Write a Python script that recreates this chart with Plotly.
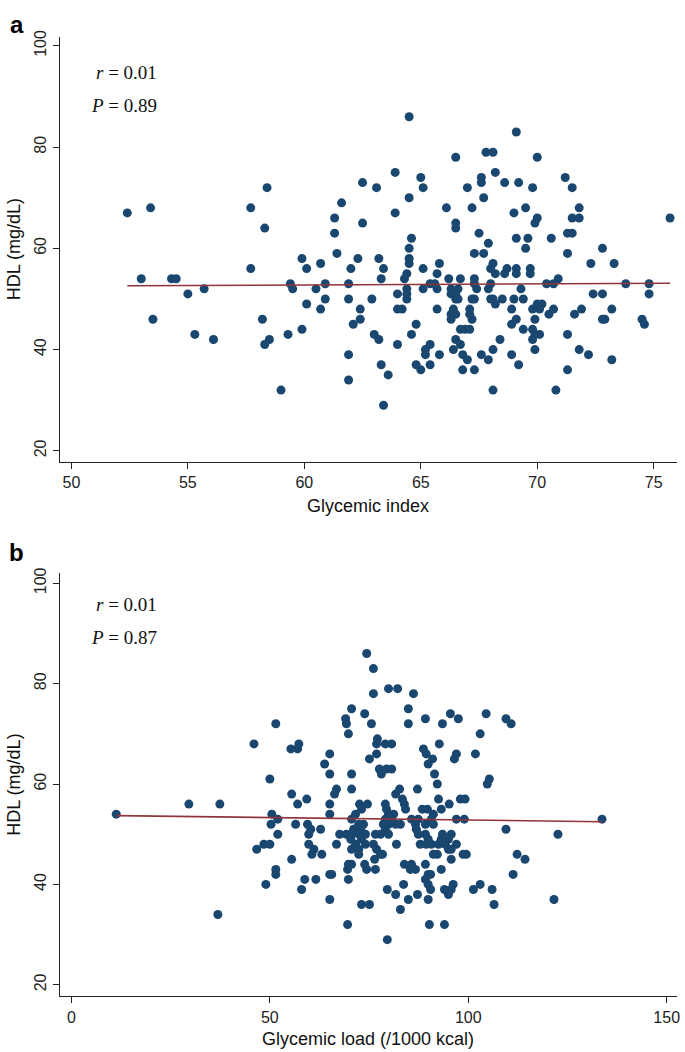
import plotly.graph_objects as go

# ---------------- Panel a: Glycemic index vs HDL ----------------
gi_a = [
    64.5,
    69.1,
    67.8, 68.1,
    66.5, 70.0,
    63.9, 68.2,
    65.0, 67.6, 71.2,
    62.5, 67.6, 68.6, 69.2,
    58.4, 63.1, 65.1, 67.0, 69.8, 71.5,
    64.5, 67.7,
    61.6,
    53.4, 57.7, 66.1, 67.2, 69.5, 71.8,
    52.4, 63.9, 69.0,
    61.3, 70.0, 71.5, 71.8, 75.7,
    62.5, 66.5, 69.9,
    58.3, 66.5,
    61.3, 67.5, 71.3, 71.5,
    64.6, 69.1, 69.6, 70.6,
    67.9,
    64.5, 69.5, 72.8,
    61.4, 67.3, 67.7, 71.3,
    59.9, 62.3, 63.2, 64.5,
    60.7, 64.5, 65.8, 68.1, 72.3, 73.3,
    57.7, 60.1, 62.0, 63.4, 65.1, 68.0, 68.7, 69.1, 69.7,
    64.4, 65.7, 68.2, 68.6, 69.1, 69.7,
    53.0, 54.3, 54.5, 63.3, 64.3, 66.2, 66.7, 67.3, 70.9,
    59.4, 60.9, 61.9, 65.4, 65.6, 67.3, 68.0, 70.4, 70.7, 73.8, 74.8,
    55.7, 59.5, 60.5, 64.4, 65.1, 65.7, 66.3, 66.6, 67.4, 67.9, 69.3,
    55.0, 64.0, 64.4, 66.3, 66.5, 72.4, 72.8, 74.8,
    60.9, 61.9, 62.9, 64.4, 66.5, 66.6, 67.2, 67.3, 68.0, 68.1, 68.5, 69.0, 69.4,
    60.1, 68.2, 70.0, 70.2,
    60.7, 62.4, 64.0, 64.2, 65.7, 66.4, 67.1, 68.9, 69.8, 70.1, 70.7, 71.9, 73.2,
    66.3, 66.5, 67.1, 70.5, 71.6,
    53.5, 58.2, 62.4, 66.3, 67.2, 69.1, 69.9, 72.8, 72.9, 74.5,
    62.1, 64.8, 68.9, 74.6,
    59.9, 66.7, 66.9, 67.1, 69.4, 69.8,
    55.3, 59.3, 63.0, 64.6, 69.9, 70.1, 71.3,
    56.1, 58.5, 63.2, 66.5, 68.4, 69.8,
    58.3, 64.0, 65.4, 66.7,
    65.2, 66.4, 68.1, 69.9, 71.8,
    61.9, 65.2, 65.8, 66.8, 67.6, 68.9, 72.2,
    67.0, 67.9, 73.2,
    63.3, 64.8, 65.4, 69.2,
    65.0, 66.8, 67.3, 71.3,
    63.6,
    61.9,
    59.0, 68.1, 70.8,
    63.4,
]
hdl_a = [
    86,
    83,
    79, 79,
    78, 78,
    75, 75,
    74, 74, 74,
    73, 73, 73, 73,
    72, 72, 72, 72, 72, 72,
    70, 70,
    69,
    68, 68, 68, 68, 68, 68,
    67, 67, 67,
    66, 66, 66, 66, 66,
    65, 65, 65,
    64, 64,
    63, 63, 63, 63,
    62, 62, 62, 62,
    61,
    60, 60, 60,
    59, 59, 59, 59,
    58, 58, 58, 58,
    57, 57, 57, 57, 57, 57,
    56, 56, 56, 56, 56, 56, 56, 56, 56,
    55, 55, 55, 55, 55, 55,
    54, 54, 54, 54, 54, 54, 54, 54, 54,
    53, 53, 53, 53, 53, 53, 53, 53, 53, 53, 53,
    52, 52, 52, 52, 52, 52, 52, 52, 52, 52, 52,
    51, 51, 51, 51, 51, 51, 51, 51,
    50, 50, 50, 50, 50, 50, 50, 50, 50, 50, 50, 50, 50,
    49, 49, 49, 49,
    48, 48, 48, 48, 48, 48, 48, 48, 48, 48, 48, 48, 48,
    47, 47, 47, 47, 47,
    46, 46, 46, 46, 46, 46, 46, 46, 46, 46,
    45, 45, 45, 45,
    44, 44, 44, 44, 44, 44,
    43, 43, 43, 43, 43, 43, 43,
    42, 42, 42, 42, 42, 42,
    41, 41, 41, 41,
    40, 40, 40, 40, 40,
    39, 39, 39, 39, 39, 39, 39,
    38, 38, 38,
    37, 37, 37, 37,
    36, 36, 36, 36,
    35,
    34,
    32, 32, 32,
    29,
]
fit_a = [52.6, 53.1]          # fitted HDL at min / max glycemic index
stats_a = ["<i>r</i> = 0.01", "<i>P</i> = 0.89"]

# ---------------- Panel b: Glycemic load vs HDL ----------------
gl_b = [
    74.4,
    76.1,
    79.9, 82.2,
    76.1, 86.2,
    70.6, 84.9,
    73.9, 95.5, 104.5,
    69.1, 89.2, 97.5, 109.5,
    69.3, 75.6, 84.9, 93.5, 110.8, 51.5,
    69.8, 103.0,
    77.1,
    46.0, 57.3, 76.9, 79.1, 80.7, 92.7,
    55.3, 57.0, 88.7,
    65.1, 76.9, 89.4, 97.0, 101.8,
    96.5, 91.0, 75.1,
    63.8, 89.9,
    77.6, 79.4, 80.7,
    78.1, 65.1, 70.6, 91.5,
    105.3, 50.0,
    92.2, 104.8,
    66.8, 70.6, 82.7, 87.2,
    66.3, 81.7, 55.5,
    83.4, 59.3, 92.5, 98.0, 99.2,
    83.9, 57.0, 65.1, 72.6, 74.6, 79.1, 95.2, 29.6, 37.4,
    84.2, 73.1, 79.4, 88.4, 89.7, 93.2,
    65.1, 71.6, 79.9, 81.2, 91.2, 11.3, 50.5,
    85.7, 87.4, 97.0, 99.0, 52.0, 70.6, 79.1, 80.7, 90.7, 133.7,
    50.3, 72.4, 73.6, 79.9, 81.7, 56.5, 59.5, 82.9, 86.7, 89.2, 91.2, 78.6,
    72.9, 71.1, 79.1, 60.3, 62.8, 109.5, 86.9,
    122.6, 59.8, 70.6, 72.4, 74.1, 67.6, 69.3, 76.6, 77.9, 79.9, 93.5, 95.7, 87.4, 89.2, 52.0,
    70.4, 73.1, 95.0, 93.2, 89.9,
    71.6, 74.1, 66.8, 59.8, 76.1, 81.9, 92.5, 94.2, 97.0, 87.9, 89.4, 90.7, 48.5, 50.0,
    72.4, 61.1, 70.6, 76.9, 95.0, 95.7, 46.7,
    60.6, 63.1, 72.4, 77.9, 78.4, 91.2, 92.2, 98.7, 99.5, 112.3,
    55.5, 76.4, 95.7, 114.3,
    69.8, 70.6, 73.9, 83.9, 85.7, 89.2,
    69.6, 74.4, 76.6, 86.7, 85.4, 93.2, 51.5,
    65.1, 65.6, 89.9, 90.5, 111.3, 51.5,
    58.8, 61.6, 69.8, 89.2,
    83.7, 89.9, 96.2, 103.0, 49.0,
    58.0, 79.6, 90.5, 94.0, 95.7, 101.3, 106.0,
    81.7, 87.2, 95.0,
    65.1, 84.9, 89.9, 121.6,
    73.1, 75.1, 106.5,
    82.9,
    36.9,
    69.6, 90.2, 94.0,
    79.6,
]
hdl_b = [
    86,
    83,
    79, 79,
    78, 78,
    75, 75,
    74, 74, 74,
    73, 73, 73, 73,
    72, 72, 72, 72, 72, 72,
    70, 70,
    69,
    68, 68, 68, 68, 68, 68,
    67, 67, 67,
    66, 66, 66, 66, 66,
    65, 65, 65,
    64, 64,
    63, 63, 63,
    62, 62, 62, 62,
    61, 61,
    60, 60,
    59, 59, 59, 59,
    58, 58, 58,
    57, 57, 57, 57, 57,
    56, 56, 56, 56, 56, 56, 56, 56, 56,
    55, 55, 55, 55, 55, 55,
    54, 54, 54, 54, 54, 54, 54,
    53, 53, 53, 53, 53, 53, 53, 53, 53, 53,
    52, 52, 52, 52, 52, 52, 52, 52, 52, 52, 52, 52,
    51, 51, 51, 51, 51, 51, 51,
    50, 50, 50, 50, 50, 50, 50, 50, 50, 50, 50, 50, 50, 50, 50,
    49, 49, 49, 49, 49,
    48, 48, 48, 48, 48, 48, 48, 48, 48, 48, 48, 48, 48, 48,
    47, 47, 47, 47, 47, 47, 47,
    46, 46, 46, 46, 46, 46, 46, 46, 46, 46,
    45, 45, 45, 45,
    44, 44, 44, 44, 44, 44,
    43, 43, 43, 43, 43, 43, 43,
    42, 42, 42, 42, 42, 42,
    41, 41, 41, 41,
    40, 40, 40, 40, 40,
    39, 39, 39, 39, 39, 39, 39,
    38, 38, 38,
    37, 37, 37, 37,
    36, 36, 36,
    35,
    34,
    32, 32, 32,
    29,
]
fit_b = [53.7, 52.5]          # fitted HDL at min / max glycemic load
stats_b = ["<i>r</i> = 0.01", "<i>P</i> = 0.87"]

x_ticks_a = [50, 55, 60, 65, 70, 75]
x_ticks_b = [0, 50, 100, 150]
y_ticks = [20, 40, 60, 80, 100]

# ---------------- figure ----------------
W, H = 685, 1052
MARKER = "#1a476f"
LINE = "#90353b"


def fx(p):
    return p / W


def fy(p):
    return 1 - p / H


fig = go.Figure()
fig.add_trace(go.Scatter(x=gi_a, y=hdl_a, mode="markers", xaxis="x", yaxis="y",
                         marker=dict(color=MARKER, size=9, line=dict(width=0)),
                         hoverinfo="skip", showlegend=False))
fig.add_trace(go.Scatter(x=[min(gi_a), max(gi_a)], y=fit_a, mode="lines", xaxis="x", yaxis="y",
                         line=dict(color=LINE, width=1.6), showlegend=False))
fig.add_trace(go.Scatter(x=gl_b, y=hdl_b, mode="markers", xaxis="x2", yaxis="y2",
                         marker=dict(color=MARKER, size=9, line=dict(width=0)),
                         hoverinfo="skip", showlegend=False))
fig.add_trace(go.Scatter(x=[min(gl_b), max(gl_b)], y=fit_b, mode="lines", xaxis="x2", yaxis="y2",
                         line=dict(color=LINE, width=1.6), showlegend=False))

tickfont = dict(family="Liberation Sans, Arial, sans-serif", size=16, color="#222")
common = dict(showline=True, linecolor="#222", linewidth=1, ticks="outside", ticklen=6,
              tickwidth=1, tickcolor="#222", showgrid=False, zeroline=False,
              tickfont=tickfont, fixedrange=True)

fig.update_layout(
    width=W, height=H,
    margin=dict(l=0, r=0, t=0, b=0),
    paper_bgcolor="white", plot_bgcolor="white",
    showlegend=False,
    xaxis=dict(domain=[fx(60), fx(680)], range=[49.5, 76.0], anchor="y",
               tickmode="array", tickvals=x_ticks_a, **common),
    yaxis=dict(domain=[fy(458), fy(30)], range=[17.8, 101.8], anchor="x",
               tickmode="array", tickvals=y_ticks, tickangle=-90, **common),
    xaxis2=dict(domain=[fx(60), fx(680)], range=[-2.94, 152.6], anchor="y2",
                tickmode="array", tickvals=x_ticks_b, **common),
    yaxis2=dict(domain=[fy(996), fy(570)], range=[17.7, 102.0], anchor="x2",
                tickmode="array", tickvals=y_ticks, tickangle=-90, **common),
)

title_font = dict(family="Liberation Sans, Arial, sans-serif", size=18, color="#111")
stat_font = dict(family="Liberation Serif, Times New Roman, serif", size=19, color="#111")
letter_font = dict(family="Liberation Sans, Arial, sans-serif", size=24, color="#000")

ann = []
# panel letters
ann.append(dict(text="<b>a</b>", x=fx(17), y=fy(18), xref="paper", yref="paper",
                xanchor="center", yanchor="middle", showarrow=False, font=letter_font))
ann.append(dict(text="<b>b</b>", x=fx(17), y=fy(549), xref="paper", yref="paper",
                xanchor="center", yanchor="middle", showarrow=False, font=letter_font))
# stats
for txt, yy in zip(stats_a, [66, 99]):
    ann.append(dict(text=txt, x=fx(160), y=fy(yy), xref="paper", yref="paper",
                    xanchor="right", yanchor="middle", showarrow=False, font=stat_font))
for txt, yy in zip(stats_b, [602, 635]):
    ann.append(dict(text=txt, x=fx(160), y=fy(yy), xref="paper", yref="paper",
                    xanchor="right", yanchor="middle", showarrow=False, font=stat_font))
# axis titles
ann.append(dict(text="HDL (mg/dL)", x=fx(14), y=fy(244), xref="paper", yref="paper",
                textangle=-90, xanchor="center", yanchor="middle", showarrow=False, font=title_font))
ann.append(dict(text="HDL (mg/dL)", x=fx(14), y=fy(783), xref="paper", yref="paper",
                textangle=-90, xanchor="center", yanchor="middle", showarrow=False, font=title_font))
ann.append(dict(text="Glycemic index", x=fx(370), y=fy(502), xref="paper", yref="paper",
                xanchor="center", yanchor="middle", showarrow=False, font=title_font))
ann.append(dict(text="Glycemic load (/1000 kcal)", x=fx(370), y=fy(1039), xref="paper", yref="paper",
                xanchor="center", yanchor="middle", showarrow=False, font=title_font))
fig.update_layout(annotations=ann)

fig.write_html("out.html",
               config={"displayModeBar": False, "staticPlot": True},
               post_script="document.body.style.margin='0';document.body.style.overflow='hidden';")
